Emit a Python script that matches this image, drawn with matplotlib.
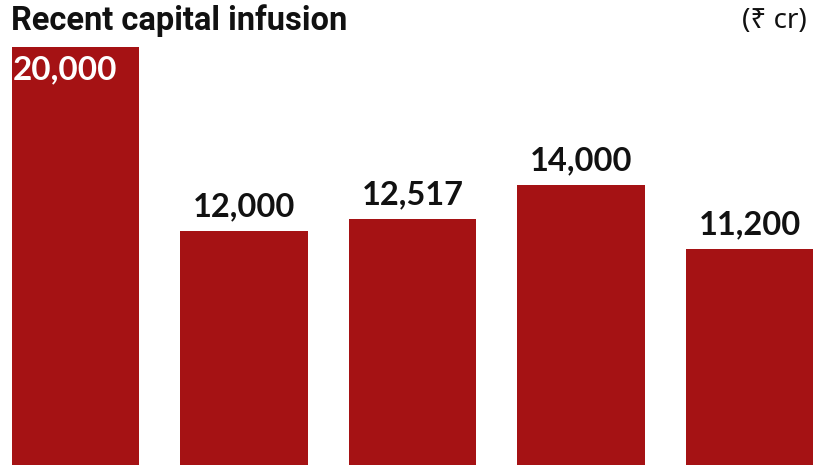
import matplotlib.pyplot as plt

# Capital infusion values (Rs crore)
labels = ["A", "B", "C", "D", "E"]
values = [20000, 12000, 12517, 14000, 11200]
value_text = ["20,000", "12,000", "12,517", "14,000", "11,200"]

bar_color = "#A51214"

fig = plt.figure(figsize=(8.26, 4.65), dpi=100)
ax = fig.add_axes([0, 0, 1, 1])

x = list(range(len(values)))
ax.bar(x, values, width=0.755, color=bar_color)

ax.set_xlim(-0.448, 4.454)
ax.set_ylim(1826, 22043)
ax.axis("off")

# value labels: first one sits inside the bar, the rest above
for i, (v, t) in enumerate(zip(values, value_text)):
    if i == 0:
        ax.text(i - 0.377 + 0.005, v - 380, t, ha="left", va="top",
                color="white", fontsize=24, fontweight="bold", family="Lato")
    else:
        ax.text(i, v + 420, t, ha="center", va="bottom",
                color="#111111", fontsize=23.5, fontweight="bold", family="Lato")

fig.text(0.013, 0.955, "Recent capital infusion", ha="left", va="center",
         fontsize=23.5, fontweight="bold", family=["Roboto", "DejaVu Sans"],
         color="#111111")
fig.text(0.977, 0.955, "(₹ cr)", ha="right", va="center",
         fontsize=20, family=["Noto Sans", "DejaVu Sans"], color="#111111")

fig.savefig("out.png", dpi=100)
